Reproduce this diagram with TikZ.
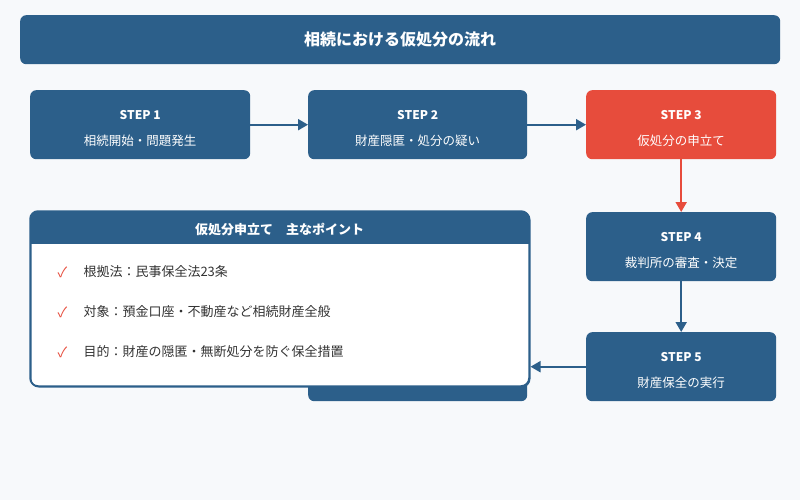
\documentclass[tikz,border=0pt]{standalone}
\usepackage{fontspec}
\setmainfont{Noto Sans CJK JP}
\usetikzlibrary{arrows.meta}
\definecolor{navy}{HTML}{2C5F8A}
\definecolor{redc}{HTML}{E74C3C}
\definecolor{bg}{HTML}{F7F9FB}
\definecolor{txt}{HTML}{333333}
\begin{document}
\begin{tikzpicture}[x=1pt,y=-1pt,
 box/.style={fill=navy,rounded corners=6pt,draw=none},
 arr/.style={draw=navy,line width=2pt,-{Triangle[length=10pt,width=11pt]}},
 lab/.style={text=white,font=\fontsize{12}{14}\selectfont\bfseries},
 sub/.style={text=white,font=\fontsize{12.5}{14}\selectfont},
 item/.style={text=txt,font=\fontsize{13}{15}\selectfont,anchor=west},
 chk/.style={text=redc,font=\fontsize{14}{15}\selectfont,anchor=west}]
\fill[bg] (0,0) rectangle (800,500);
\useasboundingbox (0,0) rectangle (800,500);
\node[box,minimum width=760,minimum height=49,anchor=north west] (title) at (20,15) {};
\node[text=white,font=\fontsize{16}{18}\selectfont\bfseries] at (title) {相続における仮処分の流れ};
% steps
\node[box,minimum width=220,minimum height=69,anchor=north west] (s1) at (30,90) {};
\node[lab] at ([yshift=10]s1.center) {STEP 1};
\node[sub] at ([yshift=-16]s1.center) {相続開始・問題発生};
\node[box,minimum width=219,minimum height=69,anchor=north west] (s2) at (308,90) {};
\node[lab] at ([yshift=10]s2.center) {STEP 2};
\node[sub] at ([yshift=-16]s2.center) {財産隠匿・処分の疑い};
\node[box,fill=redc,minimum width=190,minimum height=69,anchor=north west] (s3) at (586,90) {};
\node[lab] at ([yshift=10]s3.center) {STEP 3};
\node[sub] at ([yshift=-16]s3.center) {仮処分の申立て};
\node[box,minimum width=190,minimum height=69,anchor=north west] (s4) at (586,212) {};
\node[lab] at ([yshift=10]s4.center) {STEP 4};
\node[sub] at ([yshift=-16]s4.center) {裁判所の審査・決定};
\node[box,minimum width=190,minimum height=69,anchor=north west] (s5) at (586,332) {};
\node[lab] at ([yshift=10]s5.center) {STEP 5};
\node[sub] at ([yshift=-16]s5.center) {財産保全の実行};
\node[box,minimum width=219,minimum height=69,anchor=north west] (s6) at (308,332) {};
% arrows
\draw[arr] (s1.east) -- (s2.west);
\draw[arr] (s2.east) -- (s3.west);
\draw[arr,draw=redc] (s3.south) -- (s4.north);
\draw[arr] (s4.south) -- (s5.north);
% panel
\node[draw=navy,line width=1.5pt,fill=white,rounded corners=8pt,minimum width=499,minimum height=175,anchor=north west] (panel) at (30,211) {};
\begin{scope}
\clip[rounded corners=8pt] (30,211) rectangle (529,386);
\fill[navy] (30,211) rectangle (529,244);
\end{scope}
\draw[navy,line width=1.5pt,rounded corners=8pt] (30,211) rectangle (529,386);
\node[text=white,font=\fontsize{13}{15}\selectfont\bfseries] (ph) at (279.5,229) {仮処分申立て\quad 主なポイント};
\node[chk] (c1) at (54,272) {✓}; \node[item] (i1) at (80,272) {根拠法：民事保全法23条};
\node[chk] (c2) at (54,312) {✓}; \node[item] (i2) at (80,312) {対象：預金口座・不動産など相続財産全般};
\node[chk] (c3) at (54,352) {✓}; \node[item] (i3) at (80,352) {目的：財産の隠匿・無断処分を防ぐ保全措置};
\draw[arr] (s5.west) -- (panel.east |- s5.west);
\end{tikzpicture}
\end{document}
